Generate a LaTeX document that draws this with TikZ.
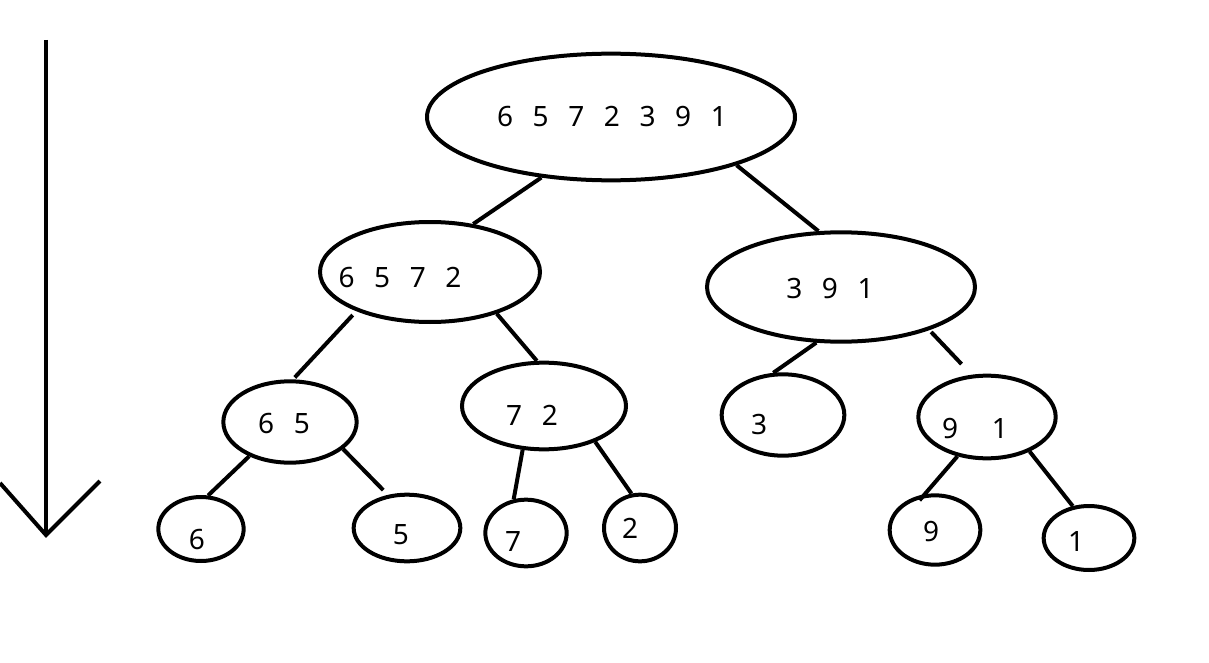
\documentclass[tikz,border=0pt]{standalone}
\usepackage{fontspec}
\setmainfont{Noto Sans}
\usetikzlibrary{shapes.geometric}
\newcommand{\dgap}{\hspace{0.7em}}
\begin{document}
\begin{tikzpicture}[x=0.75pt,y=-0.75pt,
  ell/.style={draw,line width=3pt,ellipse,inner sep=0pt},
  lbl/.style={font=\fontsize{21}{25}\selectfont,inner sep=0pt},
  edge/.style={line width=3pt}]
\useasboundingbox (0,0) rectangle (1209,663);
% ellipses
\node[ell,minimum width=276pt,minimum height=95pt] (r) at (611,117) {};
\node[ell,minimum width=165pt,minimum height=75pt] (a) at (430,272) {};
\node[ell,minimum width=201pt,minimum height=82pt] (b) at (841,287) {};
\node[ell,minimum width=100pt,minimum height=61pt] (aa) at (290,422) {};
\node[ell,minimum width=123pt,minimum height=65pt] (ab) at (544,406) {};
\node[ell,minimum width=92pt,minimum height=61pt] (ba) at (783,415) {};
\node[ell,minimum width=103pt,minimum height=62pt] (bb) at (987,417) {};
\node[ell,minimum width=64pt,minimum height=48pt] (l6) at (201,529) {};
\node[ell,minimum width=80pt,minimum height=50pt] (l5) at (407,528) {};
\node[ell,minimum width=61pt,minimum height=50pt] (l7) at (526,533) {};
\node[ell,minimum width=54pt,minimum height=50pt] (l2) at (640,528) {};
\node[ell,minimum width=68pt,minimum height=52pt] (l9) at (935,530) {};
\node[ell,minimum width=68pt,minimum height=48pt] (l1) at (1089,538) {};
% labels
\node[lbl] (tr) at (612,117) {6\dgap 5\dgap 7\dgap 2\dgap 3\dgap 9\dgap 1};
\node[lbl] (ta) at (400,278) {6\dgap 5\dgap 7\dgap 2};
\node[lbl] (tb) at (830,289) {3\dgap 9\dgap 1};
\node[lbl] (taa) at (284,423) {6\dgap 5};
\node[lbl] (tab) at (532,415) {7\dgap 2};
\node[lbl] (tba) at (759,425) {3};
\node[lbl] (tbb) at (975,428) {9\hspace{1.2em}1};
\node[lbl] (t6) at (197,539) {6};
\node[lbl] (t5) at (401,535) {5};
\node[lbl] (t7) at (513,541) {7};
\node[lbl] (t2) at (630,528) {2};
\node[lbl] (t9) at (931,531) {9};
\node[lbl] (t1) at (1076,541) {1};
% connectors
\draw[edge] (r.-139) -- (a.48);
\draw[edge] (r.-21) -- (b.112);
\draw[edge,shorten <=4pt,shorten >=2pt] (a.-152) -- (aa.86);
\draw[edge] (a.-32) -- (ab.99);
\draw[edge] (b.-114) -- (ba.103);
\draw[edge,shorten <=2pt,shorten >=11pt] (b.-26) -- (bb.110);
\draw[edge] (aa.-140) -- (l6.78);
\draw[edge,shorten >=5pt] (aa.-27) -- (l5.120);
\draw[edge] (ab.-116) -- (l7.110);
\draw[edge] (ab.-35) -- (l2.104);
\draw[edge,shorten >=-6pt] (bb.-127) -- (l9.106);
\draw[edge] (bb.-39) -- (l1.117);
% arrow
\coordinate (atop) at (46,40);
\coordinate (atip) at (46,535);
\coordinate (aleft) at (0,483);
\coordinate (aright) at (100,481);
\draw[edge] (atop) -- (atip);
\draw[edge,line join=miter] (aleft) -- (atip) -- (aright);
\end{tikzpicture}
\end{document}
